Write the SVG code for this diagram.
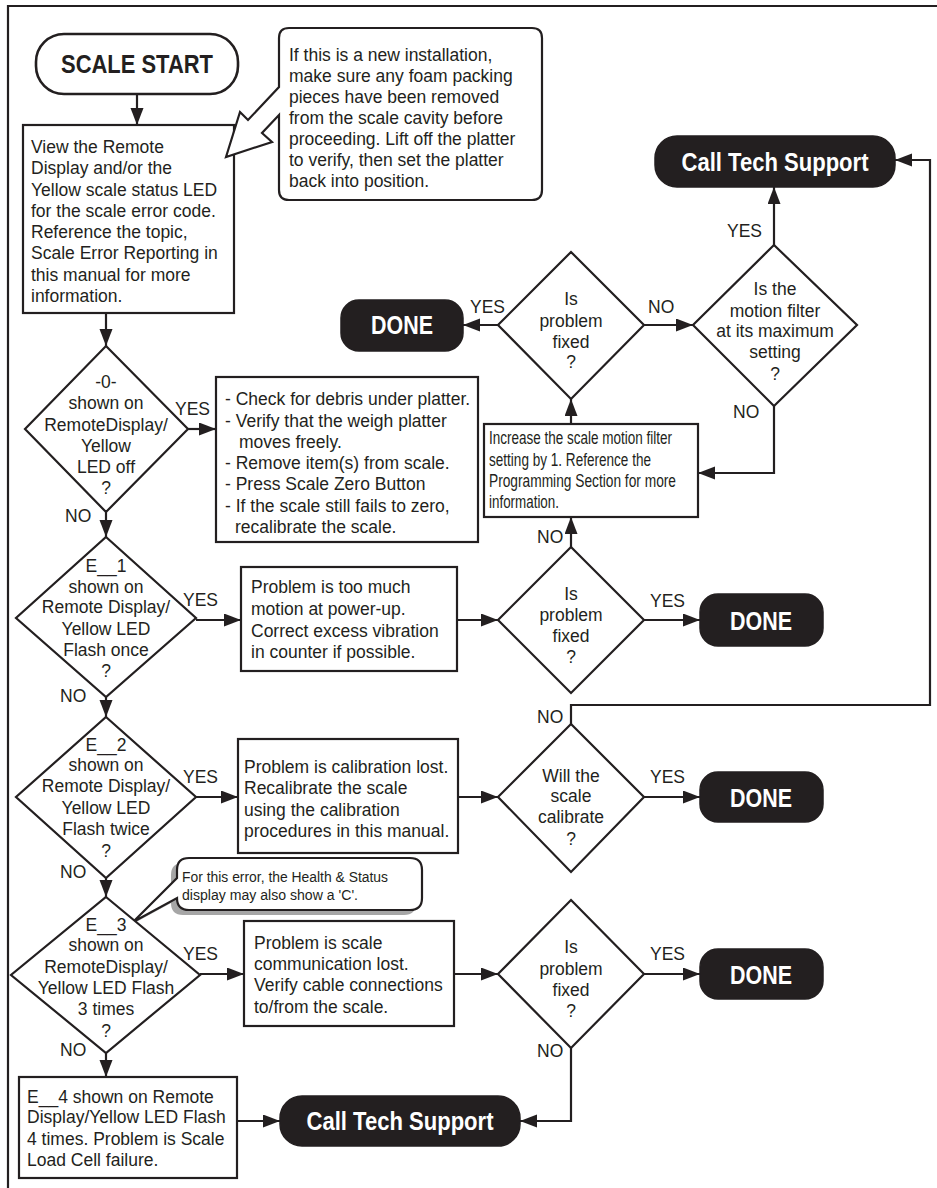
<svg xmlns="http://www.w3.org/2000/svg" width="937" height="1188" viewBox="0 0 937 1188">
<defs>
<marker id="ah" markerUnits="userSpaceOnUse" markerWidth="18" markerHeight="14" refX="17" refY="6.5" orient="auto">
<path d="M0,0 L17,6.5 L0,13 Z" fill="#231f20"/>
</marker>
<style>
.ln{fill:none;stroke:#231f20;stroke-width:2.2}
.bx{fill:#fff;stroke:#231f20;stroke-width:2.2}
.term{fill:#231f20;stroke:#231f20;stroke-width:1.5}
.wt{fill:#fff;stroke:#231f20;stroke-width:2.6}
.t{font-family:"Liberation Sans",Arial,sans-serif;font-size:17.5px;fill:#231f20}
.c{text-anchor:middle}
.b{font-family:"Liberation Sans",Arial,sans-serif;font-weight:bold;font-size:26px;text-anchor:middle}
.bw{fill:#fff}
.bk{fill:#231f20}
.sm{font-family:"Liberation Sans",Arial,sans-serif;font-size:17.5px;fill:#231f20}
.xs{font-family:"Liberation Sans",Arial,sans-serif;font-size:15.5px;fill:#231f20}
</style>
</defs>
<rect width="937" height="1188" fill="#fff"/>
<path d="M8,1188 V6 H937" class="ln"/>

<g id="connectors">
<path class="ln" d="M137,94 V125" marker-end="url(#ah)"/>
<path class="ln" d="M106,313 V346" marker-end="url(#ah)"/>
<path class="ln" d="M188,429 H216" marker-end="url(#ah)"/>
<path class="ln" d="M106,512 V537" marker-end="url(#ah)"/>
<path class="ln" d="M196,620 H241" marker-end="url(#ah)"/>
<path class="ln" d="M457,620 H498" marker-end="url(#ah)"/>
<path class="ln" d="M644,620 H700" marker-end="url(#ah)"/>
<path class="ln" d="M571,547 V517" marker-end="url(#ah)"/>
<path class="ln" d="M571,424 V399" marker-end="url(#ah)"/>
<path class="ln" d="M498,325 H463" marker-end="url(#ah)"/>
<path class="ln" d="M644,325 H693" marker-end="url(#ah)"/>
<path class="ln" d="M774,245 V187" marker-end="url(#ah)"/>
<path class="ln" d="M774,406 V473 H698" marker-end="url(#ah)"/>
<path class="ln" d="M106,697 V717" marker-end="url(#ah)"/>
<path class="ln" d="M196,797 H238" marker-end="url(#ah)"/>
<path class="ln" d="M458,797 H498" marker-end="url(#ah)"/>
<path class="ln" d="M644,797 H700" marker-end="url(#ah)"/>
<path class="ln" d="M571,724 V705 H930 V160 H895" marker-end="url(#ah)"/>
<path class="ln" d="M106,878 V897" marker-end="url(#ah)"/>
<path class="ln" d="M200,974 H244" marker-end="url(#ah)"/>
<path class="ln" d="M454,974 H498" marker-end="url(#ah)"/>
<path class="ln" d="M644,974 H700" marker-end="url(#ah)"/>
<path class="ln" d="M571,1048 V1121 H520" marker-end="url(#ah)"/>
<path class="ln" d="M106,1053 V1077" marker-end="url(#ah)"/>
<path class="ln" d="M237,1121 H280" marker-end="url(#ah)"/>
</g>

<g id="labels">
<text class="t" x="175" y="415">YES</text>
<text class="t" x="65" y="522">NO</text>
<text class="t" x="183" y="606">YES</text>
<text class="t" x="60" y="702">NO</text>
<text class="t" x="183" y="783">YES</text>
<text class="t" x="60" y="878">NO</text>
<text class="t" x="183" y="960">YES</text>
<text class="t" x="60" y="1056">NO</text>
<text class="t" x="470" y="313">YES</text>
<text class="t" x="648" y="313">NO</text>
<text class="t" x="727" y="237">YES</text>
<text class="t" x="733" y="418">NO</text>
<text class="t" x="537" y="543">NO</text>
<text class="t" x="650" y="607">YES</text>
<text class="t" x="537" y="723">NO</text>
<text class="t" x="650" y="783">YES</text>
<text class="t" x="650" y="960">YES</text>
<text class="t" x="537" y="1057">NO</text>
</g>

<g id="scale-start">
<rect class="wt" x="36" y="34" width="202" height="60" rx="28"/>
<text class="b bk" x="137" y="73" textLength="152" lengthAdjust="spacingAndGlyphs">SCALE START</text>
</g>

<g id="view-box">
<rect class="bx" x="23" y="125" width="211" height="188"/>
<text class="t" x="31" y="153">View the Remote</text>
<text class="t" x="31" y="174">Display and/or the</text>
<text class="t" x="31" y="196">Yellow scale status LED</text>
<text class="t" x="31" y="217">for the scale error code.</text>
<text class="t" x="31" y="238">Reference the topic,</text>
<text class="t" x="31" y="259">Scale Error Reporting in</text>
<text class="t" x="31" y="281">this manual for more</text>
<text class="t" x="31" y="302">information.</text>
</g>

<g id="note-foam">
<path class="bx" d="M289,28 H532 Q542,28 542,38 V190 Q542,200 532,200 H289 Q279,200 279,190 V115 L262,133 L272,142 L226,157 L240,112 L248,120 L279,87 V38 Q279,28 289,28 Z"/>
<text class="t" x="289" y="61">If this is a new installation,</text>
<text class="t" x="289" y="82">make sure any foam packing</text>
<text class="t" x="289" y="103">pieces have been removed</text>
<text class="t" x="289" y="124">from the scale cavity before</text>
<text class="t" x="289" y="145">proceeding. Lift off the platter</text>
<text class="t" x="289" y="166">to verify, then set the platter</text>
<text class="t" x="289" y="187">back into position.</text>
</g>

<g id="call-tech-top">
<rect class="term" x="655" y="136" width="240" height="51" rx="22"/>
<text class="b bw" x="775" y="171" textLength="187" lengthAdjust="spacingAndGlyphs">Call Tech Support</text>
</g>

<g id="done-top">
<rect class="term" x="341" y="300" width="122" height="51" rx="18"/>
<text class="b bw" x="402" y="334" textLength="62" lengthAdjust="spacingAndGlyphs">DONE</text>
</g>

<g id="fixed-top">
<path class="bx" d="M571,252 L644,325 L571,399 L498,325 Z"/>
<text class="t c" x="571" y="305">Is</text>
<text class="t c" x="571" y="327">problem</text>
<text class="t c" x="571" y="348">fixed</text>
<text class="t c" x="571" y="368">?</text>
</g>

<g id="motion-max">
<path class="bx" d="M774,245 L857,325 L774,406 L693,325 Z"/>
<text class="t c" x="775" y="295">Is the</text>
<text class="t c" x="775" y="317">motion filter</text>
<text class="t c" x="775" y="337">at its maximum</text>
<text class="t c" x="775" y="358">setting</text>
<text class="t c" x="775" y="380">?</text>
</g>

<g id="increase-filter">
<rect class="bx" x="484" y="424" width="214" height="93"/>
<text class="sm" x="489" y="444" textLength="183" lengthAdjust="spacingAndGlyphs">Increase the scale motion filter</text>
<text class="sm" x="489" y="466" textLength="162" lengthAdjust="spacingAndGlyphs">setting by 1. Reference the</text>
<text class="sm" x="489" y="487" textLength="187" lengthAdjust="spacingAndGlyphs">Programming Section for more</text>
<text class="sm" x="489" y="508" textLength="70" lengthAdjust="spacingAndGlyphs">information.</text>
</g>

<g id="d-zero">
<path class="bx" d="M106,346 L188,429 L106,512 L25,429 Z"/>
<text class="t c" x="106" y="388">-0-</text>
<text class="t c" x="106" y="409">shown on</text>
<text class="t c" x="106" y="431">RemoteDisplay/</text>
<text class="t c" x="106" y="452">Yellow</text>
<text class="t c" x="106" y="473">LED off</text>
<text class="t c" x="106" y="494">?</text>
</g>

<g id="checks-box">
<rect class="bx" x="216" y="377" width="262" height="165"/>
<text class="t" x="225" y="405">- Check for debris under platter.</text>
<text class="t" x="225" y="427">- Verify that the weigh platter</text>
<text class="t" x="239" y="448">moves freely.</text>
<text class="t" x="225" y="469">- Remove item(s) from scale.</text>
<text class="t" x="225" y="490">- Press Scale Zero Button</text>
<text class="t" x="225" y="512">- If the scale still fails to zero,</text>
<text class="t" x="235" y="533">recalibrate the scale.</text>
</g>

<g id="d-e1">
<path class="bx" d="M106,537 L196,618 L106,697 L16,618 Z"/>
<text class="t c" x="106" y="572">E__1</text>
<text class="t c" x="106" y="593">shown on</text>
<text class="t c" x="106" y="613">Remote Display/</text>
<text class="t c" x="106" y="635">Yellow LED</text>
<text class="t c" x="106" y="656">Flash once</text>
<text class="t c" x="106" y="677">?</text>
</g>

<g id="box-e1">
<rect class="bx" x="241" y="567" width="216" height="104"/>
<text class="t" x="251" y="593">Problem is too much</text>
<text class="t" x="251" y="615">motion at power-up.</text>
<text class="t" x="251" y="637">Correct excess vibration</text>
<text class="t" x="251" y="658">in counter if possible.</text>
</g>

<g id="fixed-e1">
<path class="bx" d="M571,547 L644,620 L571,693 L498,620 Z"/>
<text class="t c" x="571" y="600">Is</text>
<text class="t c" x="571" y="621">problem</text>
<text class="t c" x="571" y="642">fixed</text>
<text class="t c" x="571" y="663">?</text>
</g>

<g id="done-e1">
<rect class="term" x="700" y="594" width="123" height="52" rx="18"/>
<text class="b bw" x="761" y="630" textLength="62" lengthAdjust="spacingAndGlyphs">DONE</text>
</g>

<g id="d-e2">
<path class="bx" d="M106,717 L196,797 L106,878 L16,797 Z"/>
<text class="t c" x="106" y="751">E__2</text>
<text class="t c" x="106" y="771">shown on</text>
<text class="t c" x="106" y="792">Remote Display/</text>
<text class="t c" x="106" y="814">Yellow LED</text>
<text class="t c" x="106" y="835">Flash twice</text>
<text class="t c" x="106" y="857">?</text>
</g>

<g id="box-e2">
<rect class="bx" x="238" y="739" width="220" height="114"/>
<text class="t" x="244" y="773">Problem is calibration lost.</text>
<text class="t" x="244" y="794">Recalibrate the scale</text>
<text class="t" x="244" y="816">using the calibration</text>
<text class="t" x="244" y="837">procedures in this manual.</text>
</g>

<g id="calibrate">
<path class="bx" d="M571,724 L644,797 L571,872 L498,797 Z"/>
<text class="t c" x="571" y="782">Will the</text>
<text class="t c" x="571" y="802">scale</text>
<text class="t c" x="571" y="823">calibrate</text>
<text class="t c" x="571" y="845">?</text>
</g>

<g id="done-e2">
<rect class="term" x="700" y="772" width="123" height="50" rx="18"/>
<text class="b bw" x="761" y="807" textLength="62" lengthAdjust="spacingAndGlyphs">DONE</text>
</g>

<g id="note-c">
<path fill="#a6a6a6" transform="translate(-6,5)" d="M189,858 H410 Q422,858 422,870 V898 Q422,910 410,910 H189 Q177,910 177,898 L133,922 L177,878 V870 Q177,858 189,858 Z"/>
<path class="bx" stroke-width="2" d="M189,858 H410 Q422,858 422,870 V898 Q422,910 410,910 H189 Q177,910 177,898 L133,922 L177,878 V870 Q177,858 189,858 Z"/>
<text class="xs" x="182" y="882" textLength="206" lengthAdjust="spacingAndGlyphs">For this error, the Health &amp; Status</text>
<text class="xs" x="182" y="900" textLength="176" lengthAdjust="spacingAndGlyphs">display may also show a 'C'.</text>
</g>

<g id="d-e3">
<path class="bx" d="M106,897 L200,975 L106,1053 L11,975 Z"/>
<text class="t c" x="106" y="931">E__3</text>
<text class="t c" x="106" y="951">shown on</text>
<text class="t c" x="106" y="973">RemoteDisplay/</text>
<text class="t c" x="106" y="994">Yellow LED Flash</text>
<text class="t c" x="106" y="1015">3 times</text>
<text class="t c" x="106" y="1037">?</text>
</g>

<g id="box-e3">
<rect class="bx" x="244" y="921" width="210" height="105"/>
<text class="t" x="254" y="949">Problem is scale</text>
<text class="t" x="254" y="970">communication lost.</text>
<text class="t" x="254" y="991">Verify cable connections</text>
<text class="t" x="254" y="1013">to/from the scale.</text>
</g>

<g id="fixed-e3">
<path class="bx" d="M571,900 L644,974 L571,1048 L498,974 Z"/>
<text class="t c" x="571" y="953">Is</text>
<text class="t c" x="571" y="975">problem</text>
<text class="t c" x="571" y="996">fixed</text>
<text class="t c" x="571" y="1017">?</text>
</g>

<g id="done-e3">
<rect class="term" x="700" y="949" width="123" height="50" rx="18"/>
<text class="b bw" x="761" y="984" textLength="62" lengthAdjust="spacingAndGlyphs">DONE</text>
</g>

<g id="box-e4">
<rect class="bx" x="19" y="1077" width="218" height="101"/>
<text class="t" x="27" y="1103">E__4 shown on Remote</text>
<text class="t" x="27" y="1123">Display/Yellow LED Flash</text>
<text class="t" x="27" y="1145">4 times. Problem is Scale</text>
<text class="t" x="27" y="1166">Load Cell failure.</text>
</g>

<g id="call-tech-bottom">
<rect class="term" x="280" y="1096" width="240" height="50" rx="22"/>
<text class="b bw" x="400" y="1130" textLength="187" lengthAdjust="spacingAndGlyphs">Call Tech Support</text>
</g>
</svg>
